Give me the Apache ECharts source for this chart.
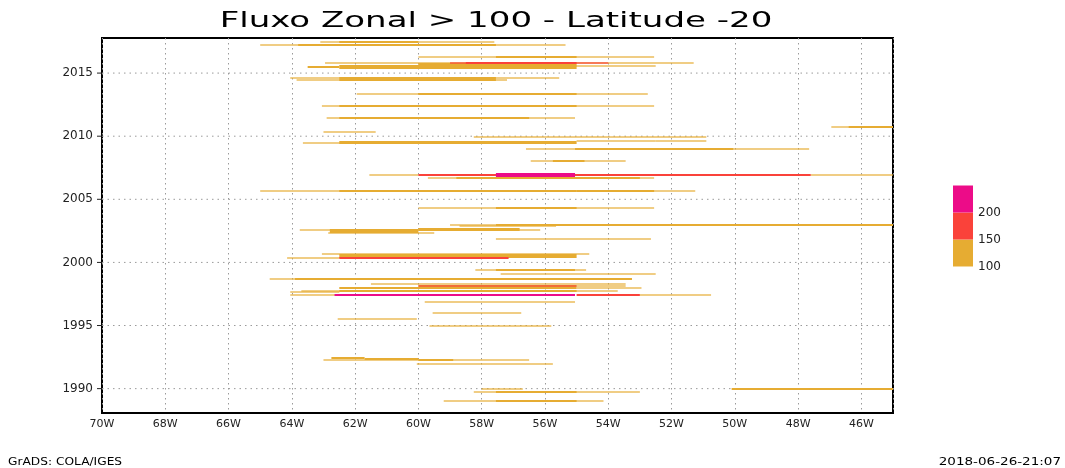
<!DOCTYPE html>
<html><head><meta charset="utf-8">
<script src="https://cdn.jsdelivr.net/npm/echarts@6/dist/echarts.min.js"></script>
<style>html,body{margin:0;padding:0;background:#fff}#c{width:1065px;height:468px}</style>
</head><body><div id="c"></div>
<script>
const titleText = 'Fluxo Zonal > 100 - Latitude -20';
const footerLeft = 'GrADS: COLA/IGES';
const footerRight = '2018-06-26-21:07';
const lonMin = -70, lonMax = -45, lonStep = 2;
const timeMin = 1988.07, timeMax = 2017.78;
const yearTicks = [1990, 1995, 2000, 2005, 2010, 2015];
const levels = [100, 150, 200];
const levelColors = ['#E6AC32', '#FA423A', '#EC0C88'];

// segments: [timeStart, timeEnd, lonStart, lonEnd]  (decimal year, degrees east)
const seg100 = [
  [2017.46, 2017.52, -63.1, -57.6],
  [2017.44, 2017.56, -62.5, -60.0],
  [2017.22, 2017.28, -65.0, -55.35],
  [2017.21, 2017.30, -63.8, -57.55],
  [2016.24, 2016.30, -60.0, -52.55],
  [2016.22, 2016.31, -57.55, -55.0],
  [2015.76, 2015.82, -62.95, -51.3],
  [2015.48, 2015.76, -60.0, -55.0],
  [2015.32, 2015.63, -62.5, -55.0],
  [2015.40, 2015.52, -63.5, -62.5],
  [2015.55, 2015.61, -55.0, -52.5],
  [2014.60, 2014.66, -64.05, -55.55],
  [2014.59, 2014.67, -62.5, -57.55],
  [2014.39, 2014.45, -63.85, -57.2],
  [2014.38, 2014.46, -62.5, -57.55],
  [2013.34, 2013.40, -61.95, -52.75],
  [2013.33, 2013.41, -60.0, -55.0],
  [2012.33, 2012.39, -63.05, -52.55],
  [2012.32, 2012.40, -62.5, -55.0],
  [2011.45, 2011.51, -62.9, -55.05],
  [2011.44, 2011.52, -62.5, -56.5],
  [2010.70, 2010.76, -46.95, -45.0],
  [2010.68, 2010.78, -46.4, -45.0],
  [2010.34, 2010.40, -63.0, -61.35],
  [2009.93, 2009.99, -58.25, -50.9],
  [2009.37, 2009.64, -62.5, -55.0],
  [2009.41, 2009.47, -63.65, -60.0],
  [2009.60, 2009.66, -55.0, -52.5],
  [2009.57, 2009.62, -52.5, -50.9],
  [2008.94, 2009.00, -56.6, -47.65],
  [2008.93, 2009.01, -55.05, -50.05],
  [2008.01, 2008.07, -56.45, -53.45],
  [2007.99, 2008.09, -55.75, -54.75],
  [2006.90, 2006.96, -61.55, -60.0],
  [2006.90, 2006.96, -47.6, -45.0],
  [2006.64, 2006.70, -59.7, -52.55],
  [2006.63, 2006.71, -58.8, -53.0],
  [2006.60, 2006.74, -57.55, -55.0],
  [2005.60, 2005.66, -65.0, -51.25],
  [2005.59, 2005.67, -62.5, -55.0],
  [2005.59, 2005.66, -55.0, -52.55],
  [2004.26, 2004.32, -60.0, -52.55],
  [2004.25, 2004.33, -57.55, -55.0],
  [2002.94, 2003.03, -57.55, -45.0],
  [2002.95, 2003.01, -59.0, -57.55],
  [2002.85, 2002.91, -58.7, -55.65],
  [2002.30, 2002.67, -62.8, -60.0],
  [2002.48, 2002.75, -60.0, -56.8],
  [2002.51, 2002.57, -63.75, -56.15],
  [2002.27, 2002.33, -62.85, -59.5],
  [2001.85, 2001.91, -57.55, -52.65],
  [2000.60, 2000.66, -63.05, -54.6],
  [2000.32, 2000.63, -62.5, -55.0],
  [2000.29, 2000.35, -64.15, -62.5],
  [1999.34, 1999.40, -58.2, -54.7],
  [1999.33, 1999.41, -57.55, -55.05],
  [1999.02, 1999.08, -57.4, -52.5],
  [1998.62, 1998.68, -64.7, -63.9],
  [1998.60, 1998.70, -63.9, -53.25],
  [1998.26, 1998.32, -61.5, -53.45],
  [1998.02, 1998.21, -60.0, -55.0],
  [1997.94, 1998.05, -62.5, -55.0],
  [1998.10, 1998.16, -55.0, -53.45],
  [1997.95, 1998.01, -55.0, -52.95],
  [1997.69, 1997.75, -63.7, -53.7],
  [1997.66, 1997.82, -62.5, -55.0],
  [1997.60, 1997.66, -64.05, -62.5],
  [1997.39, 1997.45, -64.05, -62.5],
  [1997.39, 1997.45, -53.0, -50.75],
  [1996.85, 1996.91, -59.8, -55.05],
  [1995.98, 1996.04, -59.55, -56.75],
  [1995.45, 1995.51, -62.55, -60.05],
  [1994.97, 1995.03, -59.65, -55.8],
  [1992.32, 1992.46, -62.75, -61.7],
  [1992.28, 1992.40, -61.7, -60.0],
  [1992.24, 1992.32, -60.0, -58.9],
  [1992.23, 1992.29, -63.0, -56.5],
  [1991.93, 1991.99, -60.05, -55.75],
  [1989.93, 1989.99, -58.0, -56.7],
  [1989.92, 1990.00, -50.1, -45.0],
  [1989.91, 1989.99, -47.65, -45.0],
  [1989.68, 1989.74, -58.25, -53.0],
  [1989.67, 1989.75, -57.55, -55.0],
  [1989.02, 1989.08, -59.2, -54.15],
  [1989.01, 1989.09, -57.55, -55.0]
];
const seg150 = [
  [2015.75, 2015.79, -59.0, -54.0],
  [2015.73, 2015.81, -58.5, -55.0],
  [2006.88, 2006.99, -60.0, -47.6],
  [2000.32, 2000.44, -62.5, -57.15],
  [1998.08, 1998.12, -60.0, -55.0],
  [1997.36, 1997.45, -55.0, -53.0]
];
const seg200 = [
  [2006.80, 2007.06, -57.55, -55.05],
  [1997.36, 1997.45, -62.65, -55.05]
];

const chart = echarts.init(document.getElementById('c'), null, {renderer: 'canvas'});

function segSeries(name, data, color) {
  return {
    type: 'custom', name: name, data: data, silent: true,
    encode: {x: [2, 3], y: [0, 1]},
    renderItem: function (params, api) {
      const p0 = api.coord([api.value(2), api.value(1)]);
      const p1 = api.coord([api.value(3), api.value(0)]);
      const dur = api.value(1) - api.value(0);
      const light = dur < 0.065;
      const minH = 2;
      let top = Math.round(p0[1]);
      let bot = Math.round(p1[1]);
      if (bot - top < minH) { top = Math.round((p0[1] + p1[1]) / 2 - minH / 2); bot = top + minH; }
      return {type: 'rect', shape: {x: p0[0], y: top, width: p1[0] - p0[0], height: bot - top},
        style: {fill: color, opacity: light ? 0.6 : 1}};
    }
  };
}

const yGridSeries = {
  type: 'custom', name: 'yGrid', silent: true, clip: false,
  data: yearTicks.map(y => [lonMin, y]),
  encode: {x: 0, y: 1},
  renderItem: function (params, api) {
    const y = api.value(1);
    const a = api.coord([lonMin, y]);
    const b = api.coord([lonMax, y]);
    return {type: 'group', children: [
      {type: 'line', shape: {x1: a[0], y1: a[1], x2: b[0], y2: b[1]},
        style: {stroke: '#9a9a9a', lineWidth: 1, lineDash: [1.5, 4]}},
      {type: 'line', shape: {x1: a[0] - 5, y1: a[1], x2: a[0], y2: a[1]},
        style: {stroke: '#222', lineWidth: 1}},
      {type: 'text', x: a[0] - 9, y: a[1],
        style: {text: String(y), font: '12px "DejaVu Sans"', fill: '#222',
          align: 'right', verticalAlign: 'middle', textAlign: 'right', textVerticalAlign: 'middle'}}
    ]};
  }
};

const graphics = [
  {type: 'text', x: 496, y: 22, scaleX: 1.62, silent: true,
    style: {text: titleText, font: '21px "DejaVu Sans"', fill: '#000',
      align: 'center', verticalAlign: 'middle', textAlign: 'center', textVerticalAlign: 'middle'}},
  {type: 'text', x: 8, y: 462, scaleX: 1.22, silent: true,
    style: {text: footerLeft, font: '10px "DejaVu Sans"', fill: '#000',
      align: 'left', verticalAlign: 'middle', textAlign: 'left', textVerticalAlign: 'middle'}},
  {type: 'text', x: 1061, y: 462, scaleX: 1.35, silent: true,
    style: {text: footerRight, font: '10px "DejaVu Sans"', fill: '#000',
      align: 'right', verticalAlign: 'middle', textAlign: 'right', textVerticalAlign: 'middle'}}
];
const barTop = 185.5, barH = 27, barX = 953, barW = 20;
levels.forEach(function (lv, i) {
  const yBottom = barTop + barH * levels.length - barH * i;
  graphics.push({type: 'rect', silent: true,
    shape: {x: barX, y: yBottom - barH, width: barW, height: barH},
    style: {fill: levelColors[i]}});
  graphics.push({type: 'text', x: barX + 25, y: yBottom, silent: true,
    style: {text: String(lv), font: '12px "DejaVu Sans"', fill: '#222',
      align: 'left', verticalAlign: 'middle', textAlign: 'left', textVerticalAlign: 'middle'}});
});

chart.setOption({
  animation: false,
  backgroundColor: '#fff',
  grid: {left: 102, right: 172, top: 38, bottom: 55, show: true,
    borderColor: '#000', borderWidth: 2, backgroundColor: 'transparent'},
  xAxis: {
    type: 'value', min: lonMin, max: lonMax, interval: lonStep,
    axisLine: {show: false}, axisTick: {show: false},
    axisLabel: {show: true, margin: 6, fontSize: 11, fontFamily: 'DejaVu Sans', color: '#222',
      formatter: function (v) { return (Math.abs(v) % 2 === 0 && v > lonMin - 1 && v < lonMax) ? Math.abs(v) + 'W' : ''; }},
    splitLine: {show: true, lineStyle: {color: '#9a9a9a', width: 1, type: [1.5, 3.5]}}
  },
  yAxis: {
    type: 'value', min: timeMin, max: timeMax,
    axisLine: {show: false}, axisTick: {show: false}, axisLabel: {show: false}, splitLine: {show: false}
  },
  graphic: graphics,
  series: [
    yGridSeries,
    segSeries('100-150', seg100, levelColors[0]),
    segSeries('150-200', seg150, levelColors[1]),
    segSeries('>200', seg200, levelColors[2])
  ]
});
</script>
</body></html>
